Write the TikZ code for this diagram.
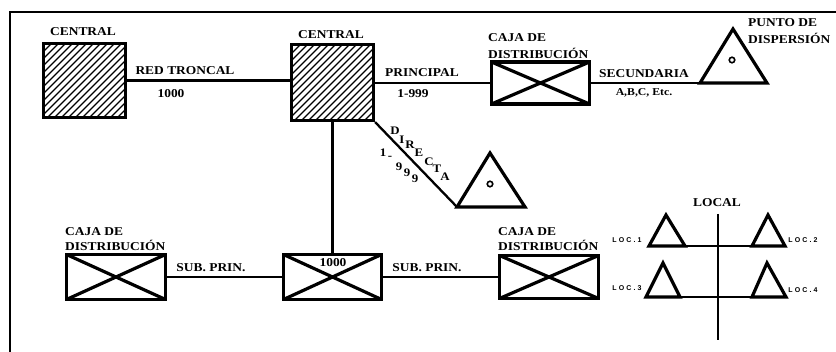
\documentclass[tikz,border=0pt]{standalone}
\usepackage{fontspec}
\newfontfamily\lblfont{Liberation Serif}[FakeStretch=1.12]
\newfontfamily\locfont{Liberation Sans}[LetterSpace=30]
\begin{document}
\begin{tikzpicture}[x=1pt,y=-1pt,
  lbl/.style={font=\lblfont\bfseries\fontsize{12}{12}\selectfont, inner sep=0pt},
  lblsm/.style={font=\lblfont\bfseries\fontsize{10.5}{11}\selectfont, inner sep=0pt},
  dlet/.style={font=\lblfont\bfseries\fontsize{11.5}{12}\selectfont, inner sep=0pt},
  loc/.style={font=\locfont\bfseries\fontsize{7}{7}\selectfont, inner sep=0pt},
  wire/.style={line width=2.3pt},
  hatchbox/.style={draw, line width=3.2pt, rectangle, inner sep=0pt, path picture={
     \foreach \i in {-133,-126,...,133} \draw[line width=1.3pt] ([shift={(\i-60,60)}]path picture bounding box.center) -- ++(120,-120);}},
  crossbox/.style={draw, line width=3.2pt, rectangle, inner sep=0pt, path picture={
     \draw[line width=3.2pt] (path picture bounding box.north west) -- (path picture bounding box.south east)
        (path picture bounding box.south west) -- (path picture bounding box.north east);}},
  tri/.style={line width=3.2pt, line join=miter},
  dot/.style={circle, draw, line width=1.6pt, inner sep=0pt, minimum size=5.5pt}
]
\useasboundingbox (0,0) rectangle (836,352);
% frame
\coordinate (fr1) at (836,12);
\coordinate (fr2) at (10,12);
\coordinate (fr3) at (10,352);
\draw[line width=2.2pt] (fr1) -- (fr2) -- (fr3);

% boxes
\node[hatchbox, minimum width=82pt, minimum height=74pt] (c1) at (84.5,80.5) {};
\node[hatchbox, minimum width=82pt, minimum height=76pt] (c2) at (332.5,82.5) {};
\node[crossbox, minimum width=98pt, minimum height=42pt] (cj1) at (540.5,83) {};
\node[crossbox, minimum width=99pt, minimum height=45pt] (bl) at (116,277) {};
\node[crossbox, minimum width=98pt, minimum height=45pt] (bm) at (332.5,277) {};
\node[crossbox, minimum width=99pt, minimum height=43pt] (br) at (549,277) {};

% triangles
\coordinate (t1a) at (733,29);
\coordinate (t1l) at (700,83);
\coordinate (t1r) at (767,83);
\draw[tri] (t1a) -- (t1l) -- (t1r) -- cycle;
\node[dot] (t1c) at (732,60) {};

\coordinate (t2a) at (490,153);
\coordinate (t2l) at (457,207);
\coordinate (t2r) at (525,207);
\draw[tri] (t2a) -- (t2l) -- (t2r) -- cycle;
\node[dot] (t2c) at (490,184) {};

% local
\coordinate (lv1) at (718,214);
\coordinate (lv2) at (718,340);
\coordinate (lh1a) at (649,246);
\coordinate (lh1b) at (785,246);
\coordinate (lh2a) at (646,297);
\coordinate (lh2b) at (786,297);
\draw[line width=2.6pt] (lv1) -- (lv2);
\draw[line width=2.6pt] (lh1a) -- (lh1b);
\draw[line width=2.6pt] (lh2a) -- (lh2b);
\coordinate (p1a) at (666,215); \coordinate (p1r) at (685,246);
\coordinate (p2a) at (768,215); \coordinate (p2l) at (752,246);
\coordinate (p3a) at (663,263); \coordinate (p3r) at (680,297);
\coordinate (p4a) at (767,263); \coordinate (p4l) at (752,297);
\draw[tri] (lh1a) -- (p1a) -- (p1r) -- cycle;
\draw[tri] (p2l) -- (p2a) -- (lh1b) -- cycle;
\draw[tri] (lh2a) -- (p3a) -- (p3r) -- cycle;
\draw[tri] (p4l) -- (p4a) -- (lh2b) -- cycle;

% connectors
\draw[wire] (c1.east) -- (c1.east -| c2.west);
\draw[wire] (c2.east |- cj1.west) -- (cj1.west);
\draw[wire] (cj1.east) -- (t1l);
\draw[wire] (c2.south) -- (bm.north);
\draw[wire] (c2.south east) -- (t2l);
\draw[wire] (bl.east) -- (bm.west);
\draw[wire] (bm.east) -- (br.west);

% labels
\node[lbl] (lc1) at (83,32) {CENTRAL};
\node[lbl] (lrt) at (185,71) {RED TRONCAL};
\node[lbl] (l1000a) at (171,94) {1000};
\node[lbl] (lc2) at (331,35) {CENTRAL};
\node[lbl] (lpr) at (422,73) {PRINCIPAL};
\node[lbl] (l999a) at (413,94) {1-999};
\node[lbl, anchor=west] (lcj1a) at (488,38) {CAJA DE};
\node[lbl, anchor=west] (lcj1b) at (488,53) {DISTRIBUCIÓN};
\node[lbl] (lsec) at (644,74) {SECUNDARIA};
\node[lblsm] (labc) at (644,93) {A,B,C, Etc.};
\node[lbl, anchor=west] (lpda) at (748,23) {PUNTO DE};
\node[lbl, anchor=west] (lpdb) at (748,38) {DISPERSIÓN};

\node[dlet] (dD) at (395,131) {D};
\node[dlet] (dI) at (402,140) {I};
\node[dlet] (dR) at (410,145) {R};
\node[dlet] (dE) at (419,153) {E};
\node[dlet] (dC) at (429,162) {C};
\node[dlet] (dT) at (437,169) {T};
\node[dlet] (dA) at (445,177) {A};
\node[dlet] (n1) at (383,153) {1};
\node[dlet] (nd) at (390,158) {-};
\node[dlet] (n9a) at (399,167) {9};
\node[dlet] (n9b) at (407,173) {9};
\node[dlet] (n9c) at (415,179) {9};

\node[lbl, anchor=west] (lbla) at (65,232) {CAJA DE};
\node[lbl, anchor=west] (lblb) at (65,245) {DISTRIBUCIÓN};
\node[lbl] (lsp1) at (211,268) {SUB. PRIN.};
\node[lbl] (l1000b) at (333,263) {1000};
\node[lbl] (lsp2) at (427,268) {SUB. PRIN.};
\node[lbl, anchor=west] (lbra) at (498,232) {CAJA DE};
\node[lbl, anchor=west] (lbrb) at (498,245) {DISTRIBUCIÓN};
\node[lbl] (lloc) at (717,203) {LOCAL};
\node[loc] (loc1) at (627,240) {LOC.1};
\node[loc] (loc2) at (803,240) {LOC.2};
\node[loc] (loc3) at (627,288) {LOC.3};
\node[loc] (loc4) at (803,290) {LOC.4};
\end{tikzpicture}
\end{document}
